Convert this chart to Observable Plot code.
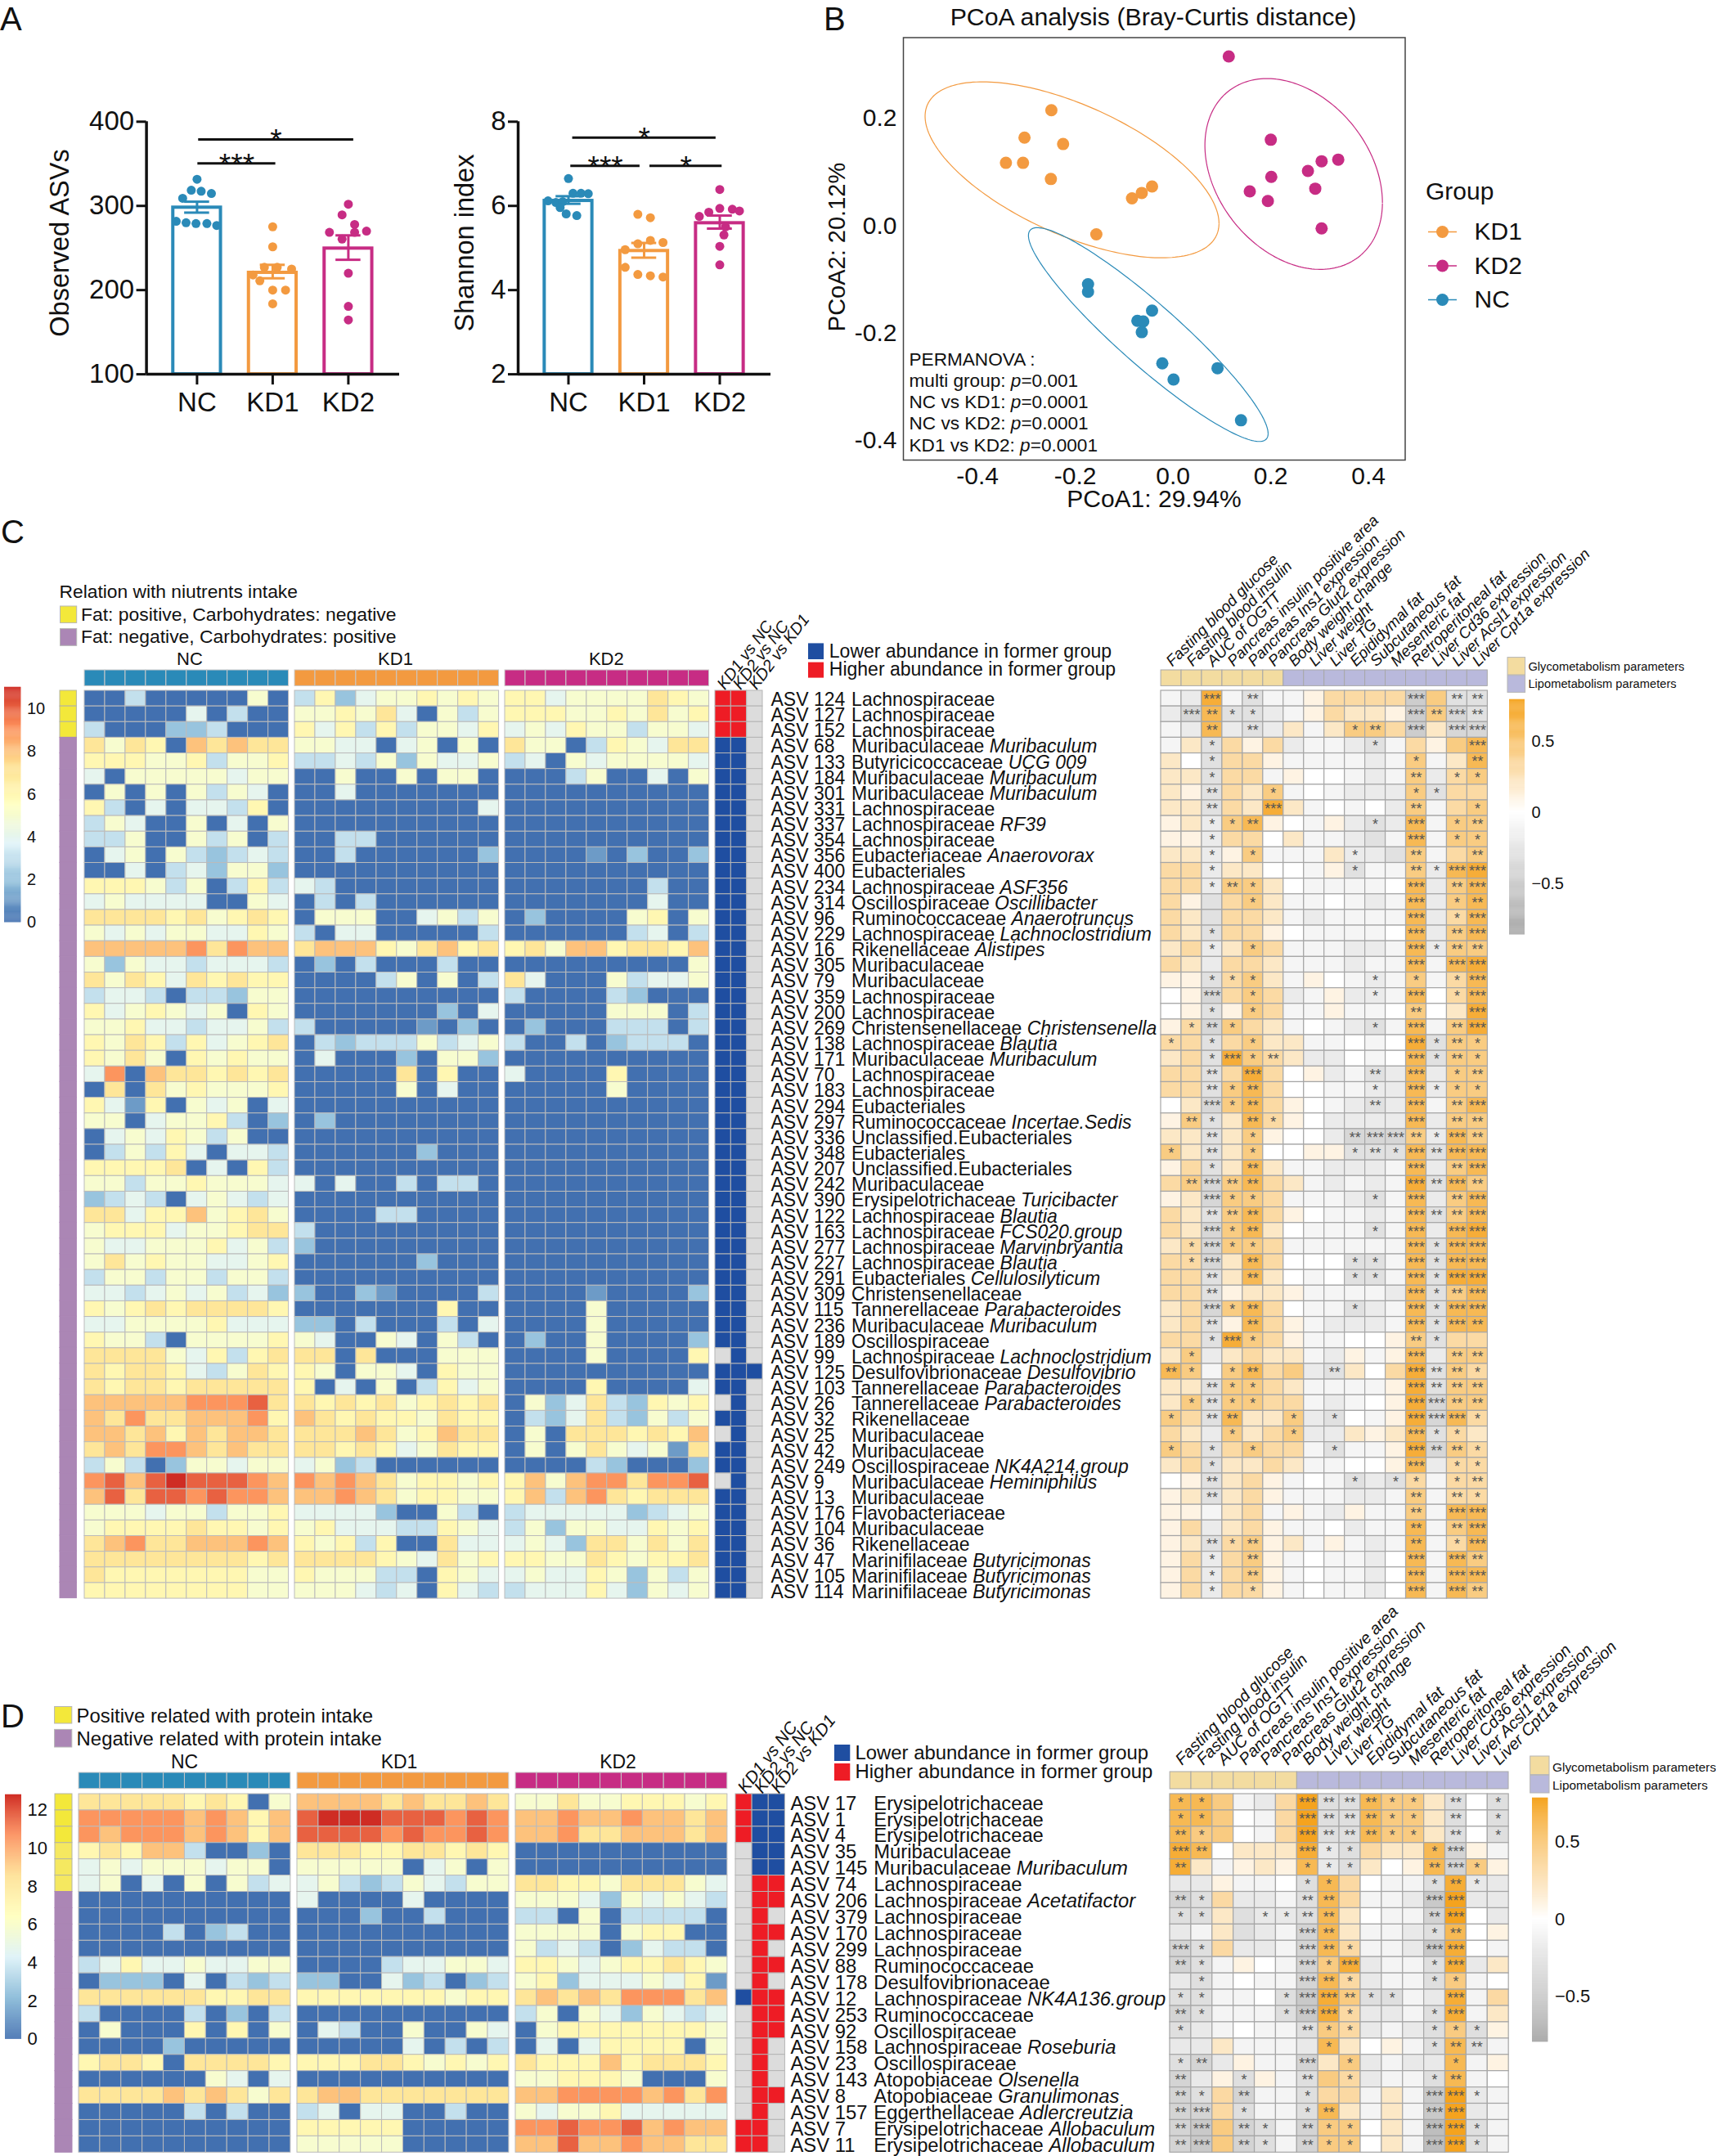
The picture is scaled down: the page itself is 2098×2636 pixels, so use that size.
<!DOCTYPE html>
<html><head><meta charset="utf-8">
<script src="https://cdn.jsdelivr.net/npm/d3@7"></script>
<script src="https://cdn.jsdelivr.net/npm/@observablehq/plot@0.6"></script>
<style>html,body{margin:0;background:#fff}#root{position:relative;width:2098px;height:2636px;overflow:hidden;background:#fff}</style>
</head><body><div id="root"></div>
<script>
// ---------- Panel A ----------
const groups=["NC","KD1","KD2"];
const obsMean=[298,220.6,249.4], obsLo=[292,214,236], obsHi=[305,230,265];
const obsNC=[[0,331.6],[-.076,318.6],[.055,317.4],[.19,314.7],[-.19,309],[-.275,281.7],[-.145,280],[-.014,279],[.13,279],[.26,276.7]];
const obsKD1=[[0,275.2],[0,251.4],[-.11,227],[.06,227],[.25,225],[-.26,218],[-.17,211],[0,200],[.17,200],[0,183.7]];
const obsKD2=[[0,302],[-.083,289.4],[.083,278],[-.25,268.6],[.083,268.6],[.24,270],[-.083,260.6],[0,220],[0,180.7],[0,164.5]];
const obsSig=[[.02,2.07,379,"*"],[.01,1.04,350.5,"***"]];
const shaMean=[6.12,4.93,5.59], shaLo=[6.05,4.77,5.46], shaHi=[6.23,5.12,5.77];
const shaNC=[[0,6.65],[.06,6.3],[.166,6.3],[.262,6.29],[-.27,6.12],[-.166,6.08],[-.076,6.1],[-.11,5.96],[-.03,5.81],[.11,5.77]];
const shaKD1=[[-.083,5.8],[.083,5.72],[.083,5.18],[.25,5.13],[-.083,5.1],[-.25,4.96],[-.25,4.54],[-.083,4.37],[.083,4.34],[.25,4.31]];
const shaKD2=[[0,6.39],[0,5.94],[.166,5.92],[-.145,5.85],[.26,5.88],[-.27,5.75],[.076,5.5],[.055,5.31],[0,5.04],[0,4.6]];
const shaSig=[[.055,1.95,7.62,"*"],[.03,.945,6.95,"***"],[1.076,2.03,6.95,"*"]];
// ---------- Panel B ----------
const pcoaKD1=[[-.249,.215],[-.304,.164],[-.225,.152],[-.342,.117],[-.307,.117],[-.25,.087],[-.043,.073],[-.064,.061],[-.084,.051],[-.157,-.016]];
const pcoaKD2=[[.114,.315],[.2,.16],[.201,.091],[.304,.12],[.338,.123],[.276,.102],[.291,.069],[.157,.064],[.194,.046],[.304,-.005]];
const pcoaNC=[[-.174,-.109],[-.174,-.123],[-.043,-.158],[-.073,-.177],[-.061,-.178],[-.064,-.198],[-.022,-.256],[.001,-.286],[.091,-.265],[.139,-.362]];
// ellipse summaries: centre x, centre y, half-width, half-height, correlation
const ellKD1=[-.2067,.104,.3007,.1637,-.609], ellKD2=[.2468,.0963,.1816,.1775,-.3], ellNC=[-.0507,-.2025,.2452,.1989,-.926];
const permanova=["PERMANOVA :","multi group: *p*=0.001","NC vs KD1: *p*=0.0001","NC vs KD2: *p*=0.0001","KD1 vs KD2: *p*=0.0001"];
// ---------- Panel C ----------
const taxaC=["124|Lachnospiraceae","127|Lachnospiraceae","152|Lachnospiraceae","68|Muribaculaceae|Muribaculum","133|Butyricicoccaceae|UCG 009","184|Muribaculaceae|Muribaculum","301|Muribaculaceae|Muribaculum","331|Lachnospiraceae","337|Lachnospiraceae|RF39","354|Lachnospiraceae","356|Eubacteriaceae|Anaerovorax","400|Eubacteriales","234|Lachnospiraceae|ASF356","314|Oscillospiraceae|Oscillibacter","96|Ruminococcaceae|Anaerotruncus","229|Lachnospiraceae|Lachnoclostridium","16|Rikenellaceae|Alistipes","305|Muribaculaceae","79|Muribaculaceae","359|Lachnospiraceae","200|Lachnospiraceae","269|Christensenellaceae|Christensenella","138|Lachnospiraceae|Blautia","171|Muribaculaceae|Muribaculum","70|Lachnospiraceae","183|Lachnospiraceae","294|Eubacteriales","297|Ruminococcaceae|Incertae.Sedis","336|Unclassified.Eubacteriales","348|Eubacteriales","207|Unclassified.Eubacteriales","242|Muribaculaceae","390|Erysipelotrichaceae|Turicibacter","122|Lachnospiraceae|Blautia","163|Lachnospiraceae|FCS020.group","277|Lachnospiraceae|Marvinbryantia","227|Lachnospiraceae|Blautia","291|Eubacteriales|Cellulosilyticum","309|Christensenellaceae","115|Tannerellaceae|Parabacteroides","236|Muribaculaceae|Muribaculum","189|Oscillospiraceae","99|Lachnospiraceae|Lachnoclostridium","125|Desulfovibrionaceae|Desulfovibrio","103|Tannerellaceae|Parabacteroides","26|Tannerellaceae|Parabacteroides","32|Rikenellaceae","25|Muribaculaceae","42|Muribaculaceae","249|Oscillospiraceae|NK4A214.group","9|Muribaculaceae|Heminiphilus","13|Muribaculaceae","176|Flavobacteriaceae","104|Muribaculaceae","36|Rikenellaceae","47|Marinifilaceae|Butyricimonas","105|Marinifilaceae|Butyricimonas","114|Marinifilaceae|Butyricimonas"];
const heatC_NC=["0030000050","0000040300","3000223000","7576087877","6665563556","4055555455","0505053540","6304044360","3540050405","3350053503","0450532343","0040342552","6665350363","4544440054","7777675676","5454554465","8888897988","5254434443","7576476766","3443033255","6456545065","5564434453","6576364567","6575065655","4908776767","0707565556","6416054504","5504556302","0454653500","0353640443","6666704063","5535565554","2343045434","7746685675","5666455677","5445556453","5756554456","3553553553","4434545342","6567677776","4455556444","6553055556","7777546367","7677643576","7677677777","88888999a7","8797788896","8878687887","7879987877","3530255455","9a8abaaa98","8a7aa9a998","5554553556","5666676656","7897788898","7777777767","7666666655","6666666655"];
const heatC_KD1=["3624556565","5565740535","6463635546","5544045050","3343525445","0050050550","0040000000","0000000004","0000000000","0033000000","0030000002","0000000000","4300000000","0303000000","0555004535","3044000003","7888657867","0203000300","0000350503","0000000000","0000000204","3000001020","0323335345","0400020552","0000070600","0000050400","0000000000","0200000000","0000000000","0000002000","0000000000","4040030330","0000000000","0000330000","3000000000","2000000000","0000002000","0000000000","2002100003","0000000600","2203000304","5400540530","7707000555","6505540655","6040503645","7676756767","8767665766","7778756877","7767645766","4523000000","9898756656","8898756655","4444200530","5644433654","6563600744","7777654756","6555330654","5554340643"];
const heatC_KD2=["6645555765","6665565756","4546553554","7550365477","3405455554","0003500405","0000000000","0000000000","0000000000","0000000000","0000102002","0000000000","0000000300","0000000400","0200005605","0000003403","6758867768","0000000005","7400053445","3000032000","0000055503","0200033303","3003023330","0000000000","4000060000","0000050000","0000000000","0000000000","0000000000","0000000000","0000000000","0000000000","0000000000","0000000000","0000000000","0000000000","0000000000","0000000000","0000100002","0000500000","0000500000","0200500002","0000500006","0000000000","0000600004","0524732656","0324732535","0507776768","0505754517","0000320002","685899799a","6838976777","3444442345","3525544656","4542775757","6655765667","4544652535","3444642545"];
const cmpC=["rrg","rrg","rrg",...Array(39).fill("bbg"),"gbg","bbb","bbg","gbg","bbg","gbg","bbg","bbg","gbg",...Array(7).fill("bbg")];
const corrC=["ab6acaa13333e4cc","bd5ccba13221e4dc","ab5bcb2a2443e2dd","a2c313baabca3145","20c331aaaaba4a25","22c33a100aba4b34","21c324a0abbb4c33","22c3262a0a0b4a34","12b4510a1bcb5a44","11b3302aabca5a44","22b14aaa2bbc4a34","33b2200a1caa4b56","33b4420aaaa05b45","31c342aa0aba5b45","32c332abaaaa5b35","32c3310aaaa05b45","23b243aaabba5b44","32b332aaabaa5a56","11c342a10aba4a35","01d343ba1bba5035","01c143aa1aa04026","13d432a0abca5a46","33c3422aa0a06c44","23c6432bb0a05c44","33c36301bacb5b44","33c45300aabb5b44","02d45310abcb5a45","14c25310bbbb5b44","22c24100bddd4b54","42c240011ccc5c55","13c252aabbba5b45","34d4532ababa6c54","12d443aaabca5b45","32c45310aaba5c45","32d4520aaaca5b56","23d443aaaaaa5c55","33d253000cca5c55","33c2520a0cca5c66","33c1221aaaab5c45","23d4530aacba5c55","23c1531abbba5c55","33c6431aa0014c33","24b2322ab1a15b44","54a4534bc2036c43","22c4432aaaa16c44","24c4433aba016d44","43c5224bc0a16d53","32b4234bb2125c32","43c3433acaa16d43","23c2232aa0015b33","01c231a0acbc3a33","12c231aaabba4a33","11a23a1ab1aa4a55","13b231aa0baa5a45","12c3412a1aba5a35","13b341a0aab05a54","13b341a0aab05a55","13b331a0aab05a54"];
const starsC=["0030200000003022","0321100000003232","0020200001203033","0010000000100003","0010000000001002","0010000000002011","0020010000001100","0020030000002001","0011200000103012","0010000000003011","0010100001002002","0010000001002133","0012100000003023","0000100000003012","0000000000003013","0010000000003023","0010100000003122","0000000000003033","0011100000101013","0030100000103013","0010100000002003","0121000000103023","1010100000003121","0013120000003121","0020300000203012","0021200000103111","0031200000203023","0210210000003022","0020100002332132","1020100001213233","0010200000003023","0232200000003232","0031100000103023","0022200000003223","0031200000103033","0131100000003133","0130200001103133","0020200001103133","0020000000003123","0031200001003133","0020200000003132","0013100000002100","0100000000003022","2101200020003221","0021100000003222","0121100000003322","1022001010003331","0001001000003110","1010100010003221","0010000000003011","0020000001011012","0020000000002021","0000000000002033","0000000000002023","0021200000002013","0010200000003032","0010200000003033","0010100000003032"];
// ---------- Panel D ----------
const taxaD=["17|Erysipelotrichaceae","1|Erysipelotrichaceae","4|Erysipelotrichaceae","35|Muribaculaceae","145|Muribaculaceae|Muribaculum","74|Lachnospiraceae","206|Lachnospiraceae|Acetatifactor","379|Lachnospiraceae","170|Lachnospiraceae","299|Lachnospiraceae","88|Ruminococcaceae","178|Desulfovibrionaceae","12|Lachnospiraceae|NK4A136.group","253|Ruminococcaceae","92|Oscillospiraceae","158|Lachnospiraceae|Roseburia","23|Oscillospiraceae","143|Atopobiaceae|Olsenella","8|Atopobiaceae|Granulimonas","157|Eggerthellaceae|Adlercreutzia","7|Erysipelotrichaceae|Allobaculum","11|Erysipelotrichaceae|Allobaculum"];
const heatD_NC=["7777767605","9999989868","9899989868","6768830020","4545554550","4504050534","0000000000","0000000000","0000302300","0000000000","3464454455","0222040323","7777776677","3000030203","0500060605","0000200000","6776077776","0000005404","7777878757","0000030300","0000000000","0000000000"];
const heatD_KD1=["8888787787","abbbaaa9a9","aaaa9a99a9","7776677676","5555504505","4532354355","4000040000","0002003000","0000000000","0000000000","0000344554","2200423023","6666666566","0000000000","0430050054","0000040303","6667765656","0000000000","7887777777","3404400300","6666600000","5555500000"];
const heatD_KD2=["5575566656","8898898878","8897788878","0000000000","0000000000","7766577754","5554254543","3305033330","5555056600","5343024330","6654566765","5624445461","7878799978","3505425434","0566666665","0404666605","7666867776","5566650005","8899998979","5455644444","99a99a8988","88a8898877"];
const cmpD=["rbb","rbb","rbb","gbb","gbb","grr","grr","grg","grr","grg","grr","grg","brr","grr","grr","grg","grg","grg","grr","grg","rrg","rrg"];
const corrD=["554ab37cc5442c0c","5540a37cc5442c0c","5440a37cc5442c0c","6502226bc3225d1a","62a1215bc2015d41","bb1aa0c530aac6bb","dc3bbac53aabe7bb","cc2cbbc520aad70b","ba2cbad52aabc501","dc3bbad53aabe60a","dca10ad46baac6b2","bca0aad53baac4a0","ccaa0ce64ccab6a3","dcaaace63bbac6a2","cba0aac43babc4c1","bb2aaab5201ac5ca","cdb1aad24babb5a1","db1c1ac43baac5a0","dc3daac33a2ae7ba","dd3caac52a2ae7ba","de4dcad4402af7ca","de4dcad4402af7ca"];
const starsD=["1100003222110201","1100003222110201","2100003222110201","3200003110001300","2000001110002310","0000001100001210","2100002200003300","1100112200002300","0000003200001200","3100003210003300","2100003130001300","0100003210001100","1100013321100300","2100013310001300","1000002110001110","0000000100001220","1200003010000100","2001002010001200","2102001000003310","2301001200003300","2302102110003310","2302102110003310"];
const traits=["Fasting blood glucose","Fasting blood insulin","AUC of OGTT","Pancreas insulin positive area","Pancreas Ins1 expression","Pancreas Glut2 expression","Body weight change","Liver weight","Liver TG","Epididymal fat","Subcutaneous fat","Mesenteric fat","Retroperitoneal fat","Liver Cd36 expression","Liver Acsl1 expression","Liver Cpt1a expression"];
const comparisons=["KD1 vs NC","KD2 vs NC","KD2 vs KD1"];
const traitClass=[..."gggggglllllllll","l"];
const corrLevels=[0,.1,.2,.32,.44,.6,.7,.79];

// ---------- colours ----------
const FONT="'Liberation Sans',Arial,Helvetica,sans-serif";
const COL={NC:"#2a8ab8",KD1:"#f39a40",KD2:"#c72c84"};
const ramp=["#4270b0","#91bfdb","#e0f3f8","#ffffbf","#fee090","#fc8d59","#cf2c24"];
const heatScale=max=>({type:"linear",domain:ramp.map((_,i)=>i*max/6),range:ramp,clamp:true});
const corrScale=(lo,hi)=>({type:"linear",domain:[lo,0,hi],range:["#a9a9a9","#ffffff","#f5a31e"],clamp:true});
const CMP={r:"#ee1c25",b:"#1f4ea1",g:"#dcdcdc"};

// ---------- helpers ----------
const root=document.getElementById("root");
const style={background:"transparent",overflow:"visible",fontFamily:FONT};
function place(node,left,top){node.style.position="absolute";node.style.left=left+"px";node.style.top=top+"px";node.style.overflow="visible";root.append(node);return node;}
const overlay=d3.select(root).append("svg").attr("width",2098).attr("height",2636).style("position","absolute").style("left",0).style("top",0).style("font-family",FONT);
function txt(s,x,y,{size=22,anchor="start",rotate=0,italic=false,baseline="auto"}={}){
  const t=overlay.append("text").attr("x",x).attr("y",y).attr("font-size",size).attr("text-anchor",anchor).attr("dominant-baseline",baseline).attr("fill","#111").attr("font-style",italic?"italic":null);
  if(rotate)t.attr("transform",`rotate(${rotate} ${x} ${y})`);
  s.split("*").forEach((p,i)=>{if(p)t.append("tspan").attr("font-style",i%2?"italic":null).text(p);});
}
function swatch(x0,y0,x1,y1,fill,stroke="#b5b5b5"){overlay.append("rect").attr("x",x0).attr("y",y0).attr("width",x1-x0).attr("height",y1-y0).attr("fill",fill).attr("stroke",stroke);}
function italicize(svg){svg.querySelectorAll("text").forEach(t=>{const p=t.textContent.split("|");if(p.length<2)return;t.textContent=p[0]+" ";const s=document.createElementNS("http://www.w3.org/2000/svg","tspan");s.setAttribute("font-style","italic");s.textContent=p[1];t.append(s);});return svg;}
const idx=n=>d3.range(n);
function cells(strings,parse,stars){const out=[];strings.forEach((s,r)=>[...s].forEach((c,k)=>out.push({row:r,col:k,v:parse(c),stars:stars?+stars[r][k]:0})));return out;}
const digit=c=>parseInt(c,16);
const corrVal=c=>/[a-f]/.test(c)?-(c.charCodeAt(0)-96)/10:corrLevels[+c];
function grid({left,top,width,height,ncol,nrow,data,fill="v",color,stroke="#bbb",strokeWidth=1,marks=[]}){
  return place(Plot.plot({width,height,margin:0,style,
    x:{type:"band",domain:idx(ncol),padding:0,round:false,axis:null},
    y:{type:"band",domain:idx(nrow),padding:0,round:false,axis:null},
    color,marks:[Plot.cell(data,{x:"col",y:"row",fill,stroke,strokeWidth}),...marks]}),left,top);
}
function legendRamp({left,top,width,height,lo,hi,ticks,color,size,pad,fmt=String}){
  const step=(hi-lo)/300,levels=d3.range(lo,hi,step);
  return place(Plot.plot({width:width+50,height,margin:0,marginRight:50,style,
    x:{domain:[0,1],axis:null},y:{domain:[lo,hi]},color,
    marks:[Plot.rect(levels,{x1:0,x2:1,y1:d=>d,y2:d=>d+step*1.3,fill:d=>d}),
      Plot.axisY({anchor:"right",ticks,tickSize:0,tickPadding:pad,fontSize:size,tickFormat:fmt,label:null,fill:"#111"})]}),left,top);
}
// ---------- Panel A ----------
function barPanel({left,axisX,axisEnd,center0,yDomain,yTicks,mean,lo,hi,points,sig,sigDy}){
  const top=110,y0=148.3,y1=457.1,unit=92.5,height=420,width=axisEnd-left+20;
  const dom=[(axisX-center0)/unit,(axisEnd-center0)/unit];
  const rows=groups.map((g,i)=>({g,i,mean:mean[i],lo:lo[i],hi:hi[i]}));
  const dots=groups.flatMap((g,i)=>points[i].map(([dx,v])=>({g,x:i+dx,v})));
  place(Plot.plot({width,height,marginLeft:axisX-left,marginRight:width-(axisEnd-left),marginTop:y0-top,marginBottom:height-(y1-top),style,
    x:{domain:dom},y:{domain:yDomain},
    marks:[
      Plot.rect(rows,{x1:d=>d.i-.315,x2:d=>d.i+.315,y1:yDomain[0],y2:"mean",fill:"white",stroke:d=>COL[d.g],strokeWidth:4}),
      Plot.ruleX(rows,{x:"i",y1:"lo",y2:"hi",stroke:d=>COL[d.g],strokeWidth:3}),
      Plot.ruleY(rows,{y:"lo",x1:d=>d.i-.165,x2:d=>d.i+.165,stroke:d=>COL[d.g],strokeWidth:3}),
      Plot.ruleY(rows,{y:"hi",x1:d=>d.i-.165,x2:d=>d.i+.165,stroke:d=>COL[d.g],strokeWidth:3}),
      Plot.dot(dots,{x:"x",y:"v",r:5.5,fill:d=>COL[d.g]}),
      Plot.ruleY(sig,{y:d=>d[2],x1:d=>d[0],x2:d=>d[1],stroke:"#111",strokeWidth:3}),
      Plot.text(sig,{x:d=>(d[0]+d[1])/2,y:d=>d[2],text:d=>d[3],fontSize:37,fill:"#111",lineAnchor:"middle",dy:sigDy}),
      Plot.ruleX([dom[0]],{stroke:"#111",strokeWidth:3.5}),
      Plot.ruleY([yDomain[0]],{stroke:"#111",strokeWidth:3.5}),
      Plot.axisY({ticks:yTicks,tickFormat:d=>String(d),tickSize:12,tickPadding:3,fontSize:33,strokeWidth:3,label:null,fill:"#111",stroke:"#111"}),
      Plot.axisX({ticks:[0,1,2],tickFormat:i=>groups[i],tickSize:13,tickPadding:9,fontSize:33,strokeWidth:3,label:null,fill:"#111",stroke:"#111"})
    ]}),left,top);
}
barPanel({left:90,axisX:178.6,axisEnd:488,center0:240.4,yDomain:[100,400],yTicks:[100,200,300,400],mean:obsMean,lo:obsLo,hi:obsHi,points:[obsNC,obsKD1,obsKD2],sig:obsSig,sigDy:2});
barPanel({left:570,axisX:633,axisEnd:942,center0:694.5,yDomain:[2,8],yTicks:[2,4,6,8],mean:shaMean,lo:shaLo,hi:shaHi,points:[shaNC,shaKD1,shaKD2],sig:shaSig,sigDy:2});
txt("A",0,37,{size:40});
txt("Observed ASVs",73,297,{size:32.5,anchor:"middle",rotate:-90,baseline:"central"});
txt("Shannon index",568,297,{size:32.5,anchor:"middle",rotate:-90,baseline:"central"});
// ---------- Panel B ----------
{
  const left=1010,top=40,width=730,height=560,fx0=1104,fx1=1717.5,fy0=45.5,fy1=562;
  const ell=e=>d3.range(0,6.30,.03).map(t=>({x:e[0]+e[2]*Math.cos(t),y:e[1]+e[3]*(e[4]*Math.cos(t)+Math.sqrt(1-e[4]*e[4])*Math.sin(t))}));
  const pts=(a,g)=>a.map(([x,y])=>({x,y,g}));
  place(Plot.plot({width,height,marginLeft:fx0-left,marginRight:left+width-fx1,marginTop:fy0-top,marginBottom:top+height-fy1,style,
    x:{domain:[-.5518,.475]},y:{domain:[-.436,.350]},
    marks:[
      Plot.frame({stroke:"#444",strokeWidth:1.5}),
      Plot.line(ell(ellKD1),{x:"x",y:"y",stroke:COL.KD1,strokeWidth:1.2}),
      Plot.line(ell(ellKD2),{x:"x",y:"y",stroke:COL.KD2,strokeWidth:1.2}),
      Plot.line(ell(ellNC),{x:"x",y:"y",stroke:COL.NC,strokeWidth:1.2}),
      Plot.dot([...pts(pcoaKD1,"KD1"),...pts(pcoaKD2,"KD2"),...pts(pcoaNC,"NC")],{x:"x",y:"y",r:7.5,fill:d=>COL[d.g]}),
      Plot.axisX({ticks:[-.4,-.2,0,.2,.4],tickFormat:d=>d.toFixed(1),tickSize:0,tickPadding:8,fontSize:30,label:null,fill:"#111"}),
      Plot.axisY({ticks:[-.4,-.2,0,.2],tickFormat:d=>d.toFixed(1),tickSize:0,tickPadding:8,fontSize:30,label:null,fill:"#111"})
    ]}),left,top);
  txt("B",1007,37,{size:40});
  txt("PCoA analysis (Bray-Curtis distance)",1410,31,{size:30.3,anchor:"middle"});
  txt("PCoA1: 29.94%",1411,620,{size:30,anchor:"middle"});
  txt("PCoA2: 20.12%",1023,302,{size:29,anchor:"middle",rotate:-90,baseline:"central"});
  permanova.forEach((s,i)=>txt(s,1111.5,[439,465,491,517,544][i],{size:22.6,baseline:"central"}));
  txt("Group",1743,244,{size:30});
  const legendGroups=["KD1","KD2","NC"];
  place(Plot.plot({width:130,height:125,margin:0,style,
    x:{domain:[0,130],range:[0,130],axis:null},
    y:{type:"point",domain:legendGroups,range:[23,106],padding:0,round:false,axis:null},
    marks:[
      Plot.ruleY(legendGroups,{y:d=>d,x1:6,x2:41,stroke:d=>COL[d],strokeWidth:1.5}),
      Plot.dot(legendGroups,{y:d=>d,x:23,r:7.5,fill:d=>COL[d]}),
      Plot.text(legendGroups,{y:d=>d,x:62,text:d=>d,textAnchor:"start",fontSize:30,fill:"#111"})
    ]}),1740,260);
}
// ---------- Heat panels ----------
function heatPanel(o){
  const h=o.rowsBottom-o.rowsTop;
  const n=o.taxa.length;
  [[o.nc,"NC"],[o.kd1,"KD1"],[o.kd2,"KD2"]].forEach(([arr,g],i)=>{
    const x0=o.blocks[i],w=o.blockW;
    grid({left:x0,top:o.stripTop,width:w,height:o.stripH,ncol:10,nrow:1,data:idx(10).map(k=>({row:0,col:k})),fill:COL[g],stroke:"#c8c8c8"});
    grid({left:x0,top:o.rowsTop,width:w,height:h,ncol:10,nrow:n,data:cells(arr,o.parse),color:heatScale(o.max)});
    txt(g,o.groupX[i],o.groupY,{size:o.groupSize,anchor:"middle"});
  });
  grid({left:o.sideX,top:o.rowsTop,width:o.sideW,height:h,ncol:1,nrow:n,data:idx(n).map(r=>({row:r,col:0,c:o.side(r)})),fill:"c",stroke:d=>d.c==="#ab86b5"?"#ab86b5":"#b5b5a0"});
  grid({left:o.cmpX,top:o.rowsTop,width:o.cmpW,height:h,ncol:3,nrow:n,data:cells(o.cmp,c=>c),fill:d=>CMP[d.v],stroke:"#b5b5b5",
    marks:[Plot.text(comparisons,{x:(d,i)=>i,frameAnchor:"top",dx:o.cmpDx,dy:-4,text:d=>d,rotate:-o.cmpAngle,textAnchor:"start",lineAnchor:"middle",fontSize:o.cmpFont,fontStyle:"italic",fill:"#111"})]});
  const rows=o.taxa.map((s,r)=>{const p=s.split("|");return{r,asv:"ASV "+p[0],name:p[2]?p[1]+"|"+p[2]:p[1]};});
  italicize(place(Plot.plot({width:480,height:h,margin:0,style,
    y:{type:"band",domain:idx(n),padding:0,round:false,axis:null},
    marks:[
      Plot.text(rows,{y:"r",text:"asv",frameAnchor:"left",textAnchor:"start",fontSize:o.labelSize,fill:"#111",dy:o.labelDy}),
      Plot.text(rows,{y:"r",text:"name",frameAnchor:"left",textAnchor:"start",dx:o.famX-o.asvX,fontSize:o.labelSize,fill:"#111",dy:o.labelDy})
    ]}),o.asvX,o.rowsTop));
  const corrColor=corrScale(o.corrLo,o.corrHi);
  grid({left:o.corrX,top:o.annTop,width:o.corrW,height:o.annH,ncol:16,nrow:1,data:traitClass.map((c,k)=>({row:0,col:k,c:c==="g"?"#f3dca0":"#b9b9dc"})),fill:"c",stroke:"#a8a8a8",
    marks:[Plot.text(traits,{x:(d,i)=>i,frameAnchor:"top",dx:-3,dy:o.traitDy,text:d=>d,rotate:-45,textAnchor:"start",lineAnchor:"middle",fontSize:o.traitFont,fontStyle:"italic",fill:"#111"})]});
  const cc=cells(o.corr,corrVal,o.stars);
  grid({left:o.corrX,top:o.rowsTop,width:o.corrW,height:h,ncol:16,nrow:n,data:cc,color:corrColor,stroke:"#a6a6a6",strokeWidth:1.2,
    marks:[Plot.text(cc.filter(d=>d.stars>0),{x:"col",y:"row",text:d=>"*".repeat(d.stars),fontSize:o.starSize,fill:"#555",lineAnchor:"middle",dy:1})]});
  legendRamp({left:o.rampX,top:o.rampY0,width:o.rampW,height:o.rampY1-o.rampY0,lo:0,hi:o.max,ticks:o.rampTicks,color:heatScale(o.max),size:o.rampSize,pad:7});
  legendRamp({left:o.cRampX,top:o.cRampY0,width:o.cRampW,height:o.cRampY1-o.cRampY0,lo:o.corrLo,hi:o.corrHi,ticks:[-.5,0,.5],color:corrColor,size:o.rampSize,pad:8,fmt:d=>d===0?"0":d<0?"\u22120.5":"0.5"});
  swatch(o.key1[0],o.key1[1],o.key1[2],o.key1[3],CMP.b,"none");
  swatch(o.key2[0],o.key2[1],o.key2[2],o.key2[3],CMP.r,"none");
  txt("Lower abundance in former group",o.keyText,o.key1Y,{size:o.keySize});
  txt("Higher abundance in former group",o.keyText,o.key2Y,{size:o.keySize});
  swatch(o.ann1[0],o.ann1[1],o.ann1[2],o.ann1[3],"#f3dca0");
  swatch(o.ann2[0],o.ann2[1],o.ann2[2],o.ann2[3],"#b9b9dc");
  txt("Glycometabolism parameters",o.annText,o.annY1,{size:o.annSize,baseline:"central"});
  txt("Lipometabolism parameters",o.annText,o.annY2,{size:o.annSize,baseline:"central"});
}
heatPanel({taxa:taxaC,nc:heatC_NC,kd1:heatC_KD1,kd2:heatC_KD2,cmp:cmpC,corr:corrC,stars:starsC,parse:digit,max:11,
  rowsTop:843.6,rowsBottom:1953.7,stripTop:818.6,stripH:19.4,blocks:[103,359.5,616.6],blockW:249.6,
  groupX:[232,483.5,741.3],groupY:813,groupSize:22,sideX:73.2,sideW:20.4,
  side:r=>r<3?"#f3e83a":"#ab86b5",cmpX:874,cmpW:58,cmpDx:-3,cmpAngle:53,cmpFont:20,
  asvX:942,famX:1040.6,labelSize:23,labelDy:1.5,
  corrX:1419.3,corrW:399.4,annTop:818.6,annH:19.4,traitDy:-8,traitFont:19,starSize:18,corrLo:-.857,corrHi:.79,
  rampX:4.6,rampY0:840,rampY1:1127.5,rampW:20.4,rampTicks:[0,2,4,6,8,10],rampSize:20,
  cRampX:1844.7,cRampY0:855.4,cRampY1:1142.9,cRampW:19,
  key1:[988,786.4,1007,806],key2:[988,809.6,1007,828.6],keyText:1013.8,key1Y:803.6,key2Y:825.7,keySize:23,
  ann1:[1843,803.6,1864.6,825],ann2:[1843,825.7,1864.6,846.4],annText:1868.4,annY1:815,annY2:836.4,annSize:14.7});
txt("C",1,664,{size:40});
txt("Relation with niutrents intake",72.5,731,{size:22.8});
swatch(73.5,741,93.7,761.4,"#f3e83a");swatch(73.5,768.6,93.7,789.3,"#ab86b5","#b5b5b5");
txt("Fat: positive, Carbohydrates: negative",99,759,{size:22.9});
txt("Fat: negative, Carbohydrates: positive",99,785.7,{size:22.9});
heatPanel({taxa:taxaD,nc:heatD_NC,kd1:heatD_KD1,kd2:heatD_KD2,cmp:cmpD,corr:corrD,stars:starsD,parse:c=>digit(c)*12.8/11,max:12.8,
  rowsTop:2193,rowsBottom:2631.3,stripTop:2167.3,stripH:19.7,blocks:[95.9,362.8,630.3],blockW:258.9,
  groupX:[225.6,488,755.5],groupY:2162,groupSize:23,sideX:66.8,sideW:21,
  side:r=>r<3?"#f3e83a":r<6?"#f5e860":"#ab86b5",cmpX:898.8,cmpW:60.4,cmpDx:-3,cmpAngle:52,cmpFont:21,
  asvX:965.5,famX:1067.3,labelSize:23.8,labelDy:1.5,
  corrX:1430,corrW:414.2,annTop:2166.3,annH:21,traitDy:-12,traitFont:20,starSize:18,corrLo:-.795,corrHi:.785,
  rampX:5.7,rampY0:2194,rampY1:2492.8,rampW:20,rampTicks:[0,2,4,6,8,10,12],rampSize:22,
  cRampX:1873,cRampY0:2197.6,cRampY1:2496,cRampW:19.4,
  key1:[1020,2133,1039.3,2153],key2:[1020,2156,1039.3,2177],keyText:1045.5,key1Y:2151,key2Y:2174.4,keySize:23.9,
  ann1:[1870.7,2147,1894,2169.6],ann2:[1870.7,2170.4,1894,2192],annText:1898,annY1:2160.2,annY2:2181.7,annSize:15.4});
txt("D",1,2112,{size:40});
swatch(66.6,2086.5,87.8,2107,"#f3e83a");swatch(66.6,2114.4,87.8,2136,"#ab86b5","#b5b5b5");
txt("Positive related with protein intake",93.6,2106,{size:23.9});
txt("Negative related with protein intake",93.6,2134.2,{size:23.9});
</script>
</body></html>
